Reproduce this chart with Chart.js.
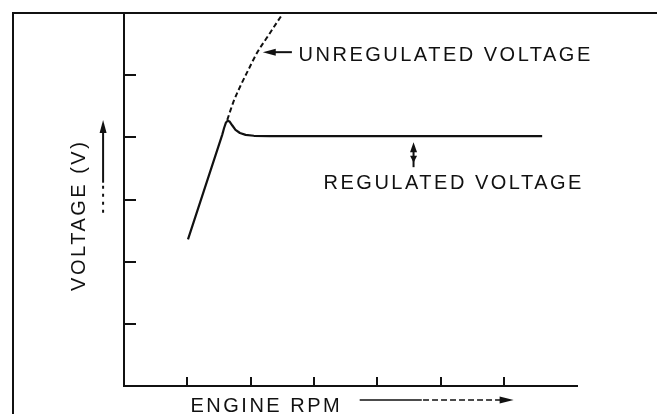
<!DOCTYPE html>
<html>
<head>
<meta charset="utf-8">
<script src="https://cdn.jsdelivr.net/npm/chart.js@4/dist/chart.umd.min.js"></script>
<style>
  html, body { margin: 0; padding: 0; background: #fff; overflow: hidden; }
  #wrap { width: 657px; height: 414px; position: relative; }
</style>
</head>
<body>
<div id="wrap"><canvas id="c" width="657" height="414"></canvas></div>
<script>
// Regulated output: straight rise, small overshoot, then held flat
const regulatedRpm   = [1.01, 1.55, 1.58, 1.61, 1.64, 1.67, 1.71, 1.76, 1.83, 1.92, 2.05, 2.30, 6.60];
const regulatedVolts = [2.36, 4.04, 4.15, 4.24, 4.27, 4.25, 4.19, 4.12, 4.07, 4.04, 4.025, 4.02, 4.02];

// Unregulated output keeps climbing with speed
const unregulatedRpm   = [1.63, 1.72, 1.83, 1.96, 2.10, 2.26, 2.46, 2.50];
const unregulatedVolts = [4.28, 4.55, 4.81, 5.08, 5.36, 5.61, 5.92, 5.98];

// Unlabelled tick marks on both axes
const rpmTicks  = [1, 2, 3, 4, 5, 6];
const voltTicks = [1, 2, 3, 4, 5];

const labelUnregulated = 'UNREGULATED VOLTAGE';
const labelRegulated   = 'REGULATED VOLTAGE';
const labelX = 'ENGINE RPM';
const labelY = 'VOLTAGE (V)';

const INK = '#111';
const FONT = '20px "Liberation Sans", Arial, sans-serif';

const toPoints = (xs, ys) => xs.map((x, i) => ({ x, y: ys[i] }));

function arrowHead(ctx, tipX, tipY, dx, dy, len, half) {
  const bx = tipX - dx * len, by = tipY - dy * len;
  ctx.beginPath();
  ctx.moveTo(tipX, tipY);
  ctx.lineTo(bx - dy * half, by + dx * half);
  ctx.lineTo(bx + dy * half, by - dx * half);
  ctx.closePath();
  ctx.fill();
}

function spacedText(ctx, text, x, y, rotate) {
  ctx.save();
  ctx.font = FONT;
  ctx.letterSpacing = '2.5px';
  ctx.fillStyle = INK;
  ctx.textAlign = 'left';
  ctx.textBaseline = 'alphabetic';
  ctx.translate(x, y);
  if (rotate) ctx.rotate(-Math.PI / 2);
  ctx.fillText(text, 0, 0);
  ctx.restore();
}

// Frame, inward tick marks, call-out arrows and labels
const decorations = {
  id: 'decorations',
  afterDraw(chart) {
    const { ctx, chartArea: a, scales: { x, y } } = chart;
    const px = v => x.getPixelForValue(v);
    const py = v => y.getPixelForValue(v);
    ctx.save();
    ctx.strokeStyle = INK;
    ctx.fillStyle = INK;

    // outer frame: top and left rules
    ctx.lineWidth = 2;
    ctx.beginPath();
    ctx.moveTo(13, 414);
    ctx.lineTo(13, a.top);
    ctx.lineTo(657, a.top);
    ctx.stroke();

    // tick marks pointing into the plot
    ctx.lineWidth = 2;
    ctx.beginPath();
    y.ticks.forEach(t => {
      const yy = Math.round(py(t.value));
      ctx.moveTo(a.left, yy);
      ctx.lineTo(a.left + 12, yy);
    });
    x.ticks.forEach(t => {
      const xx = Math.round(px(t.value));
      ctx.moveTo(xx, a.bottom);
      ctx.lineTo(xx, a.bottom - 9);
    });
    ctx.stroke();

    // arrow pointing at the unregulated curve
    ctx.lineWidth = 2;
    ctx.beginPath();
    ctx.moveTo(px(2.65), py(5.37));
    ctx.lineTo(px(2.30), py(5.37));
    ctx.stroke();
    arrowHead(ctx, px(2.19), py(5.37), -1, 0, 13, 3.5);
    spacedText(ctx, labelUnregulated, px(2.755), py(5.23), false);

    // double arrow under the regulated line
    const ax = px(4.57);
    ctx.beginPath();
    ctx.moveTo(ax, py(3.85));
    ctx.lineTo(ax, py(3.52));
    ctx.stroke();
    arrowHead(ctx, ax, py(3.92), 0, -1, 10, 3.5);
    arrowHead(ctx, ax, py(3.59), 0, 1, 7, 3.5);
    spacedText(ctx, labelRegulated, px(3.15), py(3.17), false);

    // y title with upward arrow
    const vx = px(-0.33);
    ctx.beginPath();
    ctx.moveTo(vx, py(4.10));
    ctx.lineTo(vx, py(3.27));
    ctx.stroke();
    ctx.setLineDash([3, 5]);
    ctx.beginPath();
    ctx.moveTo(vx, py(3.22));
    ctx.lineTo(vx, py(2.72));
    ctx.stroke();
    ctx.setLineDash([]);
    arrowHead(ctx, vx, py(4.28), 0, -1, 13, 3.5);
    spacedText(ctx, labelY, px(-0.615), py(1.53), true);

    // x title with rightward arrow
    const hy = py(-0.225);
    ctx.lineWidth = 1.5;
    ctx.beginPath();
    ctx.moveTo(px(3.72), hy);
    ctx.lineTo(px(4.70), hy);
    ctx.stroke();
    ctx.setLineDash([6, 3]);
    ctx.beginPath();
    ctx.moveTo(px(4.72), hy);
    ctx.lineTo(px(5.95), hy);
    ctx.stroke();
    ctx.setLineDash([]);
    arrowHead(ctx, px(6.15), hy, 1, 0, 14, 3.5);
    spacedText(ctx, labelX, px(1.05), py(-0.42), false);

    ctx.restore();
  }
};

new Chart(document.getElementById('c'), {
  type: 'scatter',
  data: {
    datasets: [
      {
        data: toPoints(unregulatedRpm, unregulatedVolts),
        showLine: true,
        borderColor: INK,
        borderWidth: 2,
        borderDash: [5, 3],
        pointRadius: 0,
        cubicInterpolationMode: 'monotone'
      },
      {
        data: toPoints(regulatedRpm, regulatedVolts),
        showLine: true,
        borderColor: INK,
        borderWidth: 2.2,
        borderJoinStyle: 'round',
        pointRadius: 0,
        tension: 0
      }
    ]
  },
  options: {
    responsive: false,
    animation: false,
    devicePixelRatio: 1,
    layout: { padding: { left: 124, top: 13, right: 80, bottom: 28 } },
    plugins: { legend: { display: false }, tooltip: { enabled: false } },
    scales: {
      x: {
        type: 'linear', min: 0, max: 7.15,
        ticks: { display: false },
        grid: { display: false, drawTicks: false },
        border: { display: true, color: INK, width: 2 },
        afterBuildTicks: s => { s.ticks = rpmTicks.map(v => ({ value: v })); }
      },
      y: {
        type: 'linear', min: 0, max: 6,
        ticks: { display: false },
        grid: { display: false, drawTicks: false },
        border: { display: true, color: INK, width: 2 },
        afterBuildTicks: s => { s.ticks = voltTicks.map(v => ({ value: v })); }
      }
    }
  },
  plugins: [decorations]
});
</script>
</body>
</html>
